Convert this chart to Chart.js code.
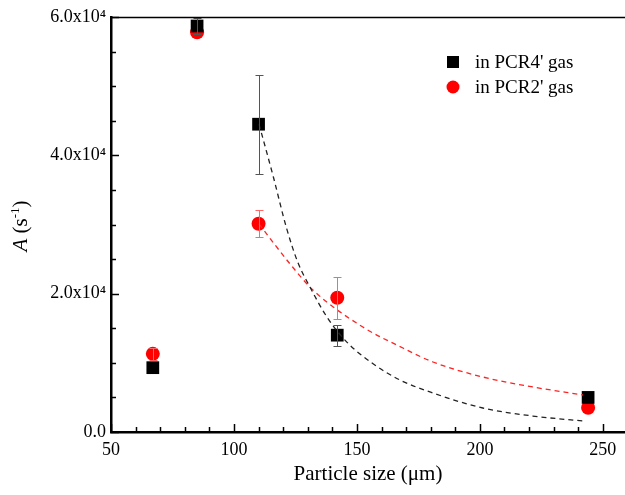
<!DOCTYPE html>
<html>
<head>
<meta charset="utf-8">
<script src="https://cdn.jsdelivr.net/npm/chart.js@4.4.1/dist/chart.umd.min.js"></script>
<style>
html,body{margin:0;padding:0;background:#fff;overflow:hidden;}
#wrap{width:625px;height:495px;position:relative;}
</style>
</head>
<body>
<div id="wrap"><canvas id="c" width="625" height="495"></canvas></div>
<script>
// ---- data ----
const sizes = [67, 85, 110, 142, 244];
const pcr4Values = [9300, 58700, 44500, 14000, 5000];
const pcr4Errors = [0, 1200, 7150, 1500, 0];
const pcr2Values = [11300, 57800, 30100, 19400, 3500];
const pcr2Errors = [900, 0, 1950, 3000, 0];

const fit4X = [110.2, 116.0, 121.4, 126.0, 130.9, 137.8, 145.9, 156.0, 167.5, 180.9, 201.2, 221.5, 241.9];
const fit4Y = [44500, 36900, 29450, 24500, 20960, 16630, 13000, 10000, 7520, 5640, 3470, 2310, 1590];
const fit2X = [110.2, 122.8, 132.1, 152.4, 168.7, 180.9, 201.2, 221.5, 241.9];
const fit2Y = [30070, 24300, 20530, 15180, 12140, 10120, 7950, 6510, 5350];

const xTickValues = [50, 100, 150, 200, 250];
const yTickValues = [0, 20000, 40000, 60000];
const yTickLabels = ['0.0', '2.0x10\u2074', '4.0x10\u2074', '6.0x10\u2074'];
const seriesLabels = ["in PCR4' gas", "in PCR2' gas"];
const xTitle = 'Particle size (\u03bcm)';
const yTitleParts = ['A', ' (s', '-1', ')'];

const FONT = "'Liberation Serif', 'Times New Roman', serif";

function pts(xs, ys){ return xs.map((x,i)=>({x:x, y:ys[i]})); }

const errorBars = {
  id:'errorBars',
  afterDatasetsDraw(chart){
    const ctx = chart.ctx, xs = chart.scales.x, ys = chart.scales.y;
    const sets = [{v:pcr4Values,e:pcr4Errors,c:'#555'},{v:pcr2Values,e:pcr2Errors,c:'#f66'}];
    ctx.save();
    sets.forEach(s=>{
      ctx.strokeStyle = s.c; ctx.lineWidth = 1;
      sizes.forEach((x,i)=>{
        if(!s.e[i]) return;
        const px = Math.round(xs.getPixelForValue(x))+0.5;
        const top = Math.round(ys.getPixelForValue(s.v[i]+s.e[i]))+0.5;
        const bot = Math.round(ys.getPixelForValue(s.v[i]-s.e[i]))+0.5;
        ctx.beginPath();
        ctx.moveTo(px, top); ctx.lineTo(px, bot);
        ctx.moveTo(px-4, top); ctx.lineTo(px+4, top);
        ctx.moveTo(px-4, bot); ctx.lineTo(px+4, bot);
        ctx.stroke();
      });
    });
    ctx.restore();
  }
};

const frame = {
  id:'frame',
  afterDraw(chart){
    const ctx = chart.ctx, a = chart.chartArea, xs = chart.scales.x, ys = chart.scales.y;
    ctx.save();
    ctx.strokeStyle = '#000';
    // top border
    ctx.lineWidth = 1.5;
    ctx.beginPath(); ctx.moveTo(a.left, a.top+0.5); ctx.lineTo(a.right, a.top+0.5); ctx.stroke();
    // inward ticks
    for(let v=50; v<=xs.max; v+=10){
      const px = Math.round(xs.getPixelForValue(v))+0.5;
      const len = (v % 50 === 0) ? 8 : 5;
      ctx.beginPath(); ctx.moveTo(px, a.bottom); ctx.lineTo(px, a.bottom-len); ctx.stroke();
    }
    for(let v=0; v<=60000; v+=5000){
      const py = Math.round(ys.getPixelForValue(v))+0.5;
      const len = (v % 20000 === 0) ? 8 : 5;
      ctx.beginPath(); ctx.moveTo(a.left, py); ctx.lineTo(a.left+len, py); ctx.stroke();
    }
    // legend
    ctx.font = '19px ' + FONT;
    ctx.textBaseline = 'middle';
    ctx.fillStyle = '#000';
    ctx.fillRect(447, 56, 12, 12);
    ctx.fillText(seriesLabels[0], 475, 63);
    ctx.fillStyle = '#f00';
    ctx.beginPath(); ctx.arc(453, 87, 6.5, 0, Math.PI*2); ctx.fill();
    ctx.fillStyle = '#000';
    ctx.fillText(seriesLabels[1], 475, 88);
    // y-axis title with italic A and superscript
    ctx.translate(27, 226);
    ctx.rotate(-Math.PI/2);
    ctx.textBaseline = 'alphabetic';
    const f1 = 'italic 21px ' + FONT, f2 = '21px ' + FONT, f3 = '13px ' + FONT;
    const w = [];
    ctx.font = f1; w.push(ctx.measureText(yTitleParts[0]).width);
    ctx.font = f2; w.push(ctx.measureText(yTitleParts[1]).width);
    ctx.font = f3; w.push(ctx.measureText(yTitleParts[2]).width);
    ctx.font = f2; w.push(ctx.measureText(yTitleParts[3]).width);
    let x = -(w[0]+w[1]+w[2]+w[3])/2;
    ctx.font = f1; ctx.fillText(yTitleParts[0], x, 0); x += w[0];
    ctx.font = f2; ctx.fillText(yTitleParts[1], x, 0); x += w[1];
    ctx.font = f3; ctx.fillText(yTitleParts[2], x, -8); x += w[2];
    ctx.font = f2; ctx.fillText(yTitleParts[3], x, 0);
    ctx.restore();
  }
};

new Chart(document.getElementById('c'), {
  type:'scatter',
  data:{
    datasets:[
      {label:'fit4', data:pts(fit4X, fit4Y), showLine:true, borderColor:'#222', borderWidth:1.3, borderDash:[5,4], pointRadius:0, cubicInterpolationMode:'monotone', fill:false},
      {label:'fit2', data:pts(fit2X, fit2Y), showLine:true, borderColor:'#f22', borderWidth:1.3, borderDash:[5,4], pointRadius:0, cubicInterpolationMode:'monotone', fill:false},
      {label:seriesLabels[0], data:pts(sizes, pcr4Values), pointStyle:'rect', pointRadius:9, backgroundColor:'#000', borderColor:'#000', borderWidth:0},
      {label:seriesLabels[1], data:pts(sizes, pcr2Values), pointStyle:'circle', pointRadius:7, backgroundColor:'#f00', borderColor:'#f00', borderWidth:0}
    ]
  },
  options:{
    responsive:false,
    animation:false,
    layout:{autoPadding:false, padding:{top:17, right:0, left:0, bottom:0}},
    plugins:{legend:{display:false}, tooltip:{enabled:false}},
    scales:{
      x:{
        type:'linear', min:50, max:259,
        afterFit(s){ s.height = 63; s.paddingLeft = 0; s.paddingRight = 0; },
        afterBuildTicks(s){ s.ticks = xTickValues.map(v=>({value:v})); },
        ticks:{font:{family:FONT, size:18}, color:'#000', padding:7, maxRotation:0},
        grid:{display:true, drawOnChartArea:false, drawTicks:false},
        border:{display:true, color:'#000', width:2.5},
        title:{display:true, text:xTitle, font:{family:FONT, size:21}, color:'#000', padding:{top:4, bottom:8}}
      },
      y:{
        type:'linear', min:0, max:60000,
        afterFit(s){ s.width = 111; s.paddingTop = 0; s.paddingBottom = 0; },
        afterBuildTicks(s){ s.ticks = yTickValues.map(v=>({value:v})); },
        ticks:{font:{family:FONT, size:18}, color:'#000', padding:5,
          callback(v){ const i = yTickValues.indexOf(v); return i>=0 ? yTickLabels[i] : ''; }},
        grid:{display:true, drawOnChartArea:false, drawTicks:false},
        border:{display:true, color:'#000', width:2.5},
        title:{display:false}
      }
    }
  },
  plugins:[errorBars, frame]
});
</script>
</body>
</html>
